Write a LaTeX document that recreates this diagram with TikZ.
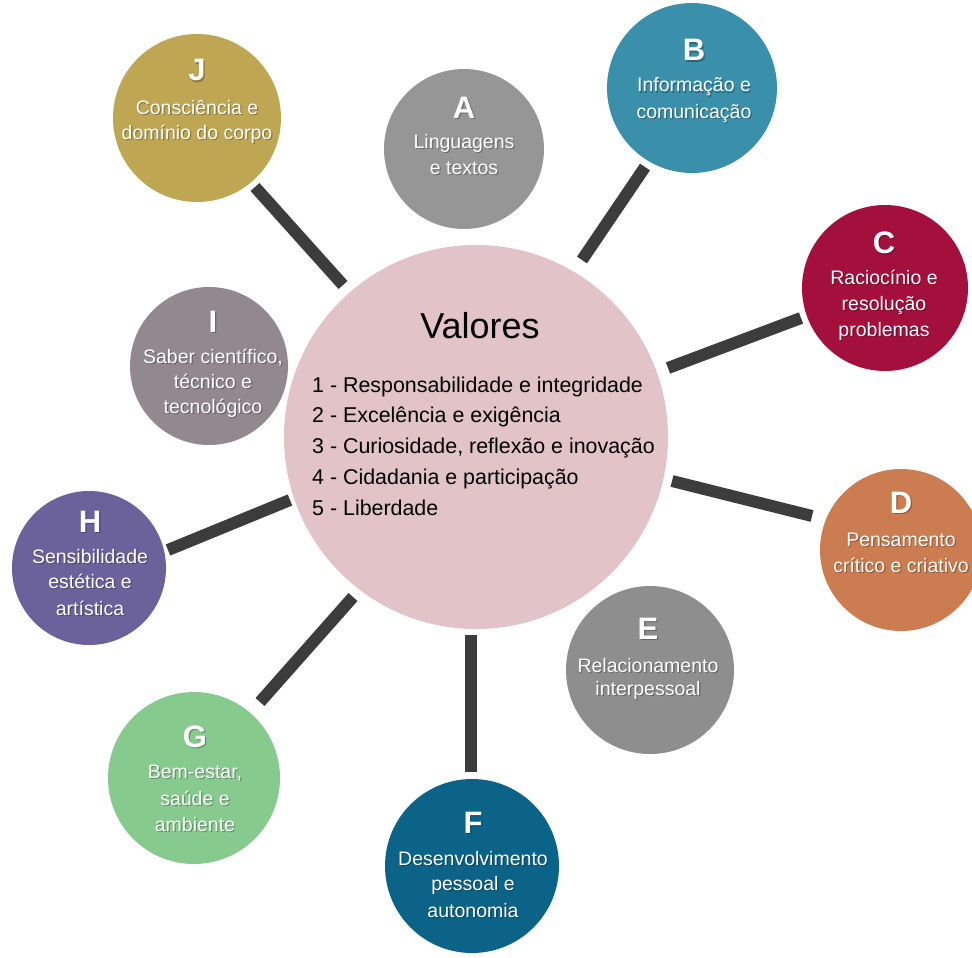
\documentclass[tikz,border=0pt]{standalone}
\usepackage{fontspec}
\setmainfont{Liberation Sans}
\definecolor{colJ}{RGB}{191,166,82}
\definecolor{colA}{RGB}{150,150,150}
\definecolor{colB}{RGB}{58,144,170}
\definecolor{colC}{RGB}{164,16,62}
\definecolor{colD}{RGB}{203,124,80}
\definecolor{colE}{RGB}{142,142,142}
\definecolor{colF}{RGB}{11,99,135}
\definecolor{colG}{RGB}{134,202,142}
\definecolor{colH}{RGB}{107,97,155}
\definecolor{colI}{RGB}{146,137,142}
\definecolor{colV}{RGB}{225,195,200}
\definecolor{colLine}{RGB}{60,60,60}
% text with a soft shadow: \shtext{name}{style}{x}{y}{text}
\newcommand{\shtext}[5]{%
  \node[#2,text=black,opacity=0.28] at ($(#3,#4)+(1.2,1.2)$) {#5};
  \node[#2] (#1) at (#3,#4) {#5};}
\usetikzlibrary{calc}
\begin{document}
\begin{tikzpicture}[x=1pt,y=-1pt,
  bubble/.style={circle,inner sep=0pt,draw=none,minimum size=#1},
  letter/.style={text=white,font=\bfseries\fontsize{31}{31}\selectfont,anchor=base,inner sep=0pt},
  body/.style={text=white,font=\fontsize{19.5}{23}\selectfont,anchor=base,inner sep=0pt},
  vtitle/.style={text=black,font=\fontsize{36}{36}\selectfont,anchor=base,inner sep=0pt},
  vitem/.style={text=black,font=\fontsize{21.4}{24}\selectfont,anchor=base west,inner sep=0pt},
  conn/.style={draw=colLine,line width=12pt,line cap=butt}]
\useasboundingbox (0,0) rectangle (972,958);
\fill[white] (0,0) rectangle (972,958);

% central circle
\node[bubble=384pt,fill=colV] (V) at (476,437) {};
\node[vtitle] (vt) at (480,338) {Valores};
\node[vitem] (v1) at (312,392) {1 - Responsabilidade e integridade};
\node[vitem] (v2) at (312,422) {2 - Excelência e exigência};
\node[vitem] (v3) at (312,453) {3 - Curiosidade, reflexão e inovação};
\node[vitem] (v4) at (312,484) {4 - Cidadania e participação};
\node[vitem] (v5) at (312,515) {5 - Liberdade};

% J
\node[bubble=168pt,fill=colJ] (J) at (197,118) {};
\shtext{JL}{letter}{197}{81}{J}
\shtext{J1}{body}{197}{114}{Consciência e}
\shtext{J2}{body}{197}{139}{domínio do corpo}

% A
\node[bubble=160pt,fill=colA] (A) at (464,149) {};
\shtext{AL}{letter}{464}{118}{A}
\shtext{A1}{body}{464}{148}{Linguagens}
\shtext{A2}{body}{464}{174}{e textos}

% B
\node[bubble=170pt,fill=colB] (B) at (692,88) {};
\shtext{BL}{letter}{694}{61}{B}
\shtext{B1}{body}{694}{92}{Informação e}
\shtext{B2}{body}{694}{118}{comunicação}

% C
\node[bubble=166pt,fill=colC] (C) at (885,288) {};
\shtext{CL}{letter}{884}{253}{C}
\shtext{C1}{body}{884}{284}{Raciocínio e}
\shtext{C2}{body}{884}{310}{resolução}
\shtext{C3}{body}{884}{336}{problemas}

% D
\node[bubble=162pt,fill=colD] (D) at (901,550) {};
\shtext{DL}{letter}{901}{513}{D}
\shtext{D1}{body}{901}{546}{Pensamento}
\shtext{D2}{body}{901}{572}{crítico e criativo}

% E
\node[bubble=168pt,fill=colE] (E) at (650,670) {};
\shtext{EL}{letter}{648}{639}{E}
\shtext{E1}{body}{648}{672}{Relacionamento}
\shtext{E2}{body}{648}{695}{interpessoal}

% F
\node[bubble=174pt,fill=colF] (F) at (472,866) {};
\shtext{FL}{letter}{473}{833}{F}
\shtext{F1}{body}{473}{865}{Desenvolvimento}
\shtext{F2}{body}{473}{890}{pessoal e}
\shtext{F3}{body}{473}{917}{autonomia}

% G
\node[bubble=172pt,fill=colG] (G) at (194,778) {};
\shtext{GL}{letter}{195}{747}{G}
\shtext{G1}{body}{195}{778}{Bem-estar,}
\shtext{G2}{body}{195}{805}{saúde e}
\shtext{G3}{body}{195}{831}{ambiente}

% H
\node[bubble=154pt,fill=colH] (H) at (89,568) {};
\shtext{HL}{letter}{90}{532}{H}
\shtext{H1}{body}{90}{563}{Sensibilidade}
\shtext{H2}{body}{90}{588}{estética e}
\shtext{H3}{body}{90}{615}{artística}

% I
\node[bubble=158pt,fill=colI] (I) at (209,366) {};
\shtext{IL}{letter}{213}{332}{I}
\shtext{I1}{body}{213}{363}{Saber científico,}
\shtext{I2}{body}{213}{388}{técnico e}
\shtext{I3}{body}{213}{413}{tecnológico}

% connector end points
\coordinate (cJa) at (343,285);  \coordinate (cJb) at (255,187);
\coordinate (cBa) at (582,260);  \coordinate (cBb) at (645,167);
\coordinate (cCa) at (668,368);  \coordinate (cCb) at (801,318);
\coordinate (cDa) at (672,481);  \coordinate (cDb) at (812,516);
\coordinate (cFa) at (471,635);  \coordinate (cFb) at (471,772);
\coordinate (cGa) at (353,597);  \coordinate (cGb) at (260,702);
\coordinate (cHa) at (290,500);  \coordinate (cHb) at (168,550);

\draw[conn] (cJa) -- (cJb);
\draw[conn] (cBa) -- (cBb);
\draw[conn] (cCa) -- (cCb);
\draw[conn] (cDa) -- (cDb);
\draw[conn] (cFa) -- (cFb);
\draw[conn] (cGa) -- (cGb);
\draw[conn] (cHa) -- (cHb);
\end{tikzpicture}
\end{document}
